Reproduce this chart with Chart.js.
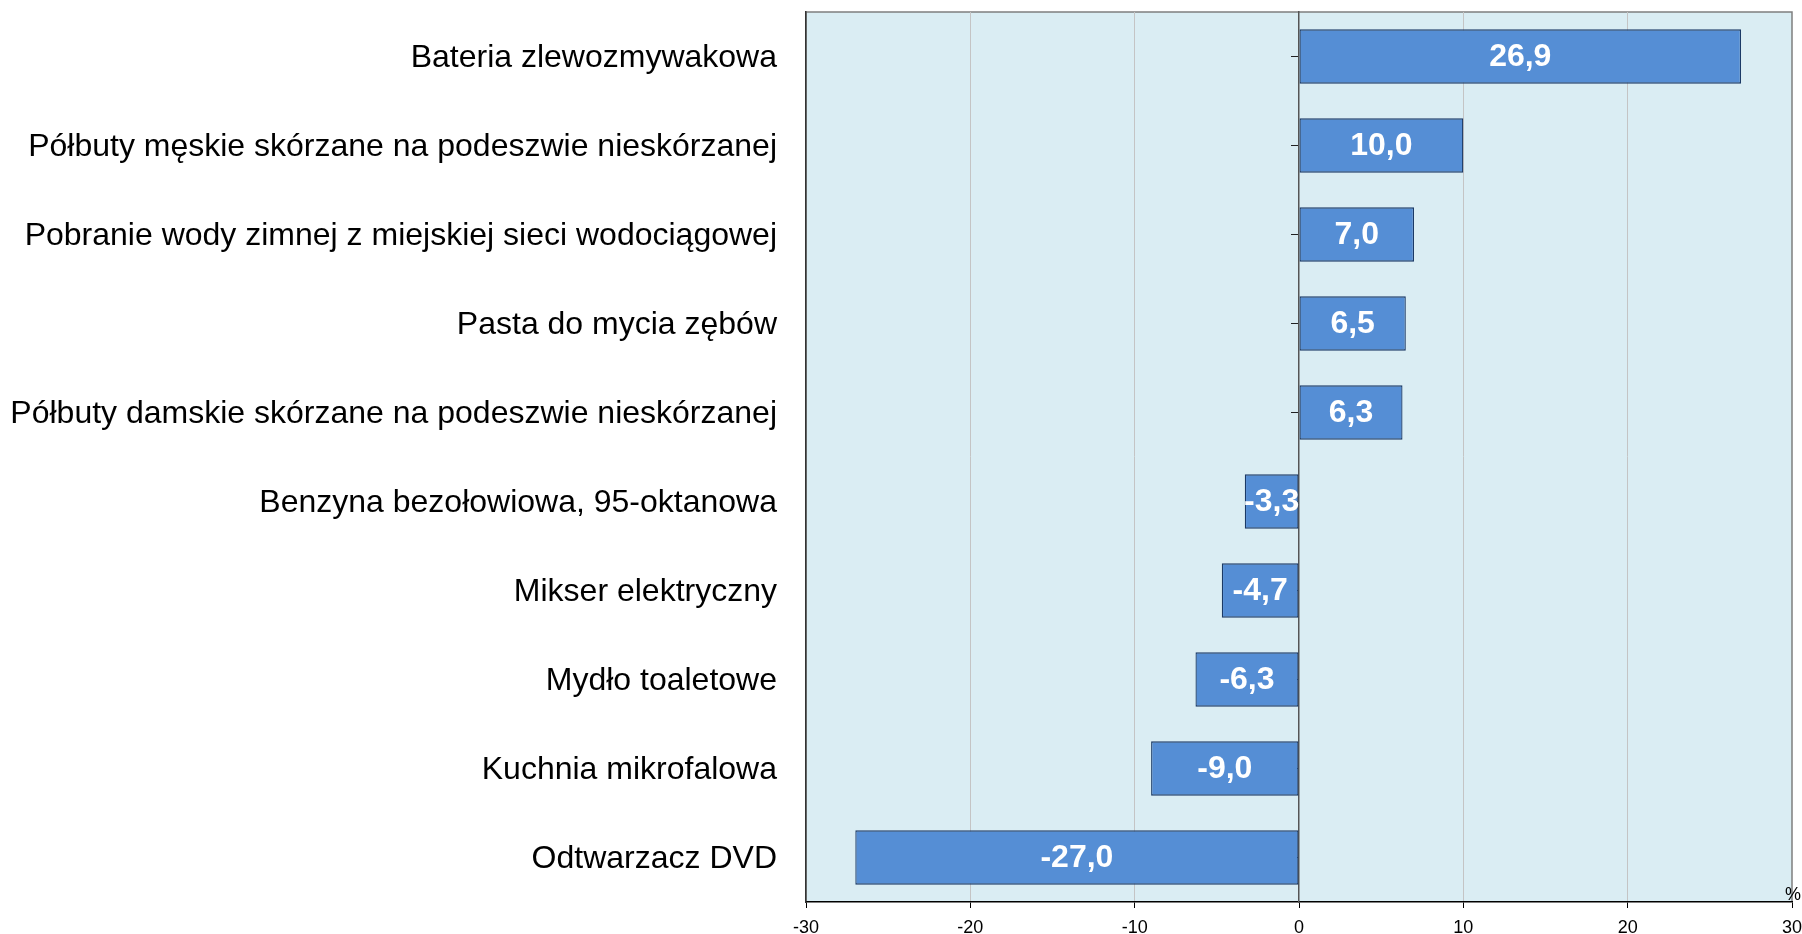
<!DOCTYPE html>
<html>
<head>
<meta charset="utf-8">
<script src="https://cdn.jsdelivr.net/npm/chart.js@4/dist/chart.umd.min.js"></script>
<style>
  html, body { margin: 0; padding: 0; background: #fff; }
  #wrap { width: 1802px; height: 934px; position: relative; }
</style>
</head>
<body>
<div id="wrap"><canvas id="chart"></canvas></div>
<script>
// categories, top to bottom
const categories = [
    "Bateria zlewozmywakowa",
    "Półbuty męskie skórzane na podeszwie nieskórzanej",
    "Pobranie wody zimnej z miejskiej sieci wodociągowej",
    "Pasta do mycia zębów",
    "Półbuty damskie skórzane na podeszwie nieskórzanej",
    "Benzyna bezołowiowa, 95-oktanowa",
    "Mikser elektryczny",
    "Mydło toaletowe",
    "Kuchnia mikrofalowa",
    "Odtwarzacz DVD"
];
// change in %
const changes = [26.9, 10.0, 7.0, 6.5, 6.3, -3.3, -4.7, -6.3, -9.0, -27.0];
const xMin = -30;
const xMax = 30;
const xStep = 10;
const unitLabel = "%";

const fontFamily = "'Liberation Sans', Arial, sans-serif";

// plot background + frame
const plotFrame = {
    id: "plotFrame",
    beforeDraw(chart) {
        const {ctx, chartArea: a} = chart;
        ctx.save();
        ctx.fillStyle = "#DAEDF3";
        ctx.fillRect(a.left, a.top, a.right - a.left, a.bottom - a.top);
        ctx.strokeStyle = "#7F7F7F";
        ctx.lineWidth = 1.5;
        ctx.beginPath();
        ctx.moveTo(a.left, a.bottom);
        ctx.lineTo(a.left, a.top);
        ctx.lineTo(a.right, a.top);
        ctx.lineTo(a.right, a.bottom);
        ctx.stroke();
        ctx.restore();
    }
};

// value labels inside the bars and the unit sign
const barLabels = {
    id: "barLabels",
    afterDraw(chart) {
        const ctx = chart.ctx;
        const meta = chart.getDatasetMeta(0);
        ctx.save();
        ctx.fillStyle = "#FFFFFF";
        ctx.font = "bold 32px " + fontFamily;
        ctx.textAlign = "center";
        ctx.textBaseline = "middle";
        meta.data.forEach((bar, i) => {
            const txt = changes[i].toFixed(1).replace(".", ",");
            ctx.fillText(txt, (bar.x + bar.base) / 2, bar.y + 1);
        });
        const xs = chart.scales.x;
        ctx.fillStyle = "#000";
        ctx.font = "18px " + fontFamily;
        ctx.textBaseline = "bottom";
        ctx.fillText(unitLabel, xs.right + 1, xs.top + 2);
        ctx.restore();
    }
};

const ctx = document.getElementById("chart").getContext("2d");
new Chart(ctx, {
    type: "bar",
    data: {
        labels: categories,
        datasets: [{
            data: changes,
            backgroundColor: "#558ED5",
            borderColor: "#1B3A66",
            borderWidth: 1.3,
            borderSkipped: false,
            categoryPercentage: 1.0,
            barPercentage: 0.61
        }]
    },
    options: {
        indexAxis: "y",
        responsive: true,
        maintainAspectRatio: false,
        animation: false,
        events: [],
        layout: { padding: { top: 12, left: 0, right: 10, bottom: 0 } },
        plugins: {
            legend: { display: false },
            tooltip: { enabled: false }
        },
        scales: {
            x: {
                min: xMin,
                max: xMax,
                ticks: {
                    stepSize: xStep,
                    color: "#000",
                    font: { family: fontFamily, size: 18 },
                    padding: 9,
                    maxRotation: 0
                },
                grid: {
                    color: (c) => (c.tick && (c.tick.value === 0 || c.tick.value === xMin || c.tick.value === xMax)) ? "rgba(0,0,0,0)" : "#C4C4C4",
                    lineWidth: 1,
                    tickColor: "#000",
                    tickLength: 6
                },
                border: { display: true, color: "#000", width: 1.5 },
                afterFit(scale) {
                    scale.height = 32;
                    scale.paddingLeft = 0;
                    scale.paddingRight = 0;
                }
            },
            y: {
                ticks: {
                    color: "#000",
                    font: { family: fontFamily, size: 32 },
                    padding: 29,
                    labelOffset: 2
                },
                grid: { drawOnChartArea: false, drawTicks: false },
                border: { display: true, color: "#333", width: 1.5 },
                afterFit(scale) {
                    scale.width = 806;
                    scale.paddingTop = 0;
                    scale.paddingBottom = 0;
                }
            },
            zeroAxis: {
                type: "category",
                axis: "y",
                labels: categories,
                position: { x: 0 },
                offset: true,
                z: 1,
                ticks: { display: false },
                grid: { drawOnChartArea: false, offset: false, tickLength: 7, tickColor: "#222" },
                border: { display: true, color: "#555", width: 1.5 },
                afterFit(scale) {
                    scale.paddingTop = 0;
                    scale.paddingBottom = 0;
                }
            }
        }
    },
    plugins: [plotFrame, barLabels]
});
</script>
</body>
</html>
